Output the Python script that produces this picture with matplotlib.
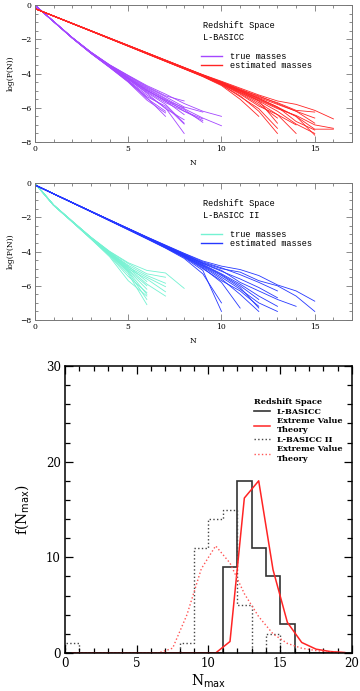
"""Cumulative group-size probabilities and N_max distributions in redshift space."""

import matplotlib
matplotlib.use("Agg")
import matplotlib.pyplot as plt
import numpy as np
from matplotlib.lines import Line2D
from matplotlib.ticker import MultipleLocator

# log(P(N)) curves, one list per realisation, values at N = 0, 1, 2, ...
LBASICC_TRUE = [
    [0.0, -0.95, -1.89, -2.74, -3.48, -4.10, -4.70, -5.20, -5.75, -6.20, -6.50],
    [0.0, -0.95, -1.90, -2.76, -3.52, -4.20, -4.85, -5.45, -6.05, -6.60, -7.05],
    [0.0, -0.95, -1.91, -2.78, -3.56, -4.30, -5.05, -5.70, -6.20, -6.75],
    [0.0, -0.95, -1.90, -2.75, -3.50, -4.15, -4.80, -5.35, -5.95, -6.25],
    [0.0, -0.96, -1.92, -2.80, -3.60, -4.40, -5.25, -6.00, -7.50],
    [0.0, -0.95, -1.90, -2.77, -3.54, -4.25, -4.95, -5.60, -6.40],
    [0.0, -0.96, -1.92, -2.81, -3.62, -4.45, -5.40, -6.50],
    [0.0, -0.95, -1.91, -2.79, -3.58, -4.35, -5.10, -5.80, -6.90],
    [0.0, -0.95, -1.90, -2.76, -3.53, -4.22, -4.90, -5.50, -6.20, -6.65],
    [0.0, -0.96, -1.91, -2.79, -3.57, -4.32, -5.15, -6.05, -6.70],
    [0.0, -0.95, -1.89, -2.74, -3.49, -4.12, -4.75, -5.30, -5.60],
    [0.0, -0.96, -1.92, -2.80, -3.61, -4.42, -5.35, -5.90, -6.95],
    [0.0, -0.95, -1.90, -2.77, -3.55, -4.28, -5.00, -5.55, -6.00],
    [0.0, -0.96, -1.93, -2.82, -3.64, -4.50, -5.55, -6.30],
    [0.0, -0.95, -1.91, -2.78, -3.55, -4.27, -4.98, -5.62, -6.10, -6.85],
    [0.0, -0.96, -1.92, -2.81, -3.63, -4.47, -5.45, -6.20],
]
LBASICC_EST = [
    [-0.2, -0.63, -1.06, -1.49, -1.92, -2.35, -2.78, -3.21, -3.64, -4.06, -4.45, -4.85, -5.25, -5.60, -5.80, -6.15, -6.65],
    [-0.2, -0.63, -1.06, -1.49, -1.92, -2.35, -2.78, -3.21, -3.64, -4.08, -4.52, -4.98, -5.45, -5.95, -6.50, -7.25, -7.25],
    [-0.2, -0.63, -1.07, -1.50, -1.94, -2.37, -2.81, -3.25, -3.69, -4.12, -4.58, -5.10, -5.70, -6.40, -7.50],
    [-0.2, -0.63, -1.06, -1.49, -1.93, -2.36, -2.79, -3.23, -3.66, -4.09, -4.50, -4.95, -5.40, -5.80, -6.20, -6.60],
    [-0.2, -0.64, -1.08, -1.52, -1.96, -2.40, -2.84, -3.28, -3.72, -4.16, -4.65, -5.30, -6.20, -7.50],
    [-0.2, -0.63, -1.07, -1.50, -1.94, -2.37, -2.80, -3.24, -3.68, -4.11, -4.55, -5.00, -5.50, -6.00, -6.50, -7.60],
    [-0.2, -0.63, -1.06, -1.50, -1.93, -2.36, -2.80, -3.23, -3.66, -4.10, -4.52, -4.95, -5.30, -5.75, -6.20, -6.90],
    [-0.2, -0.64, -1.08, -1.51, -1.95, -2.39, -2.83, -3.27, -3.71, -4.14, -4.62, -5.20, -5.90, -6.40, -7.00],
    [-0.2, -0.64, -1.07, -1.51, -1.95, -2.38, -2.82, -3.26, -3.70, -4.14, -4.60, -5.15, -5.80, -6.60],
    [-0.2, -0.63, -1.07, -1.50, -1.94, -2.37, -2.81, -3.24, -3.68, -4.12, -4.57, -5.05, -5.55, -6.05, -6.45, -7.00, -7.20],
    [-0.2, -0.64, -1.08, -1.52, -1.96, -2.40, -2.85, -3.29, -3.73, -4.18, -4.70, -5.50, -6.50],
    [-0.2, -0.63, -1.06, -1.49, -1.92, -2.35, -2.78, -3.22, -3.65, -4.08, -4.48, -4.90, -5.35, -5.70, -6.15, -6.25],
    [-0.2, -0.64, -1.07, -1.51, -1.94, -2.38, -2.82, -3.25, -3.69, -4.13, -4.60, -5.10, -5.60, -6.90],
    [-0.2, -0.63, -1.07, -1.50, -1.94, -2.38, -2.81, -3.25, -3.68, -4.12, -4.56, -5.00, -5.45, -5.95, -6.80, -7.30],
    [-0.2, -0.64, -1.08, -1.51, -1.95, -2.39, -2.83, -3.27, -3.71, -4.15, -4.66, -5.35, -6.05, -7.20],
    [-0.2, -0.63, -1.07, -1.50, -1.94, -2.37, -2.81, -3.24, -3.67, -4.11, -4.54, -5.02, -5.60, -6.20, -6.95, -7.50],
]
LBASICC2_TRUE = [
    [0.0, -1.27, -2.22, -3.15, -3.98, -4.65, -5.10, -5.25, -6.15],
    [0.0, -1.28, -2.23, -3.17, -4.03, -4.80, -5.40, -5.85],
    [0.0, -1.28, -2.24, -3.19, -4.08, -4.95, -5.90, -6.60],
    [0.0, -1.29, -2.25, -3.22, -4.15, -5.10, -6.20],
    [0.0, -1.29, -2.26, -3.24, -4.22, -5.30, -7.10],
    [0.0, -1.28, -2.24, -3.20, -4.10, -5.00, -5.60, -6.35],
    [0.0, -1.27, -2.22, -3.16, -4.00, -4.70, -5.30, -5.50],
    [0.0, -1.29, -2.26, -3.25, -4.25, -5.45, -6.40],
    [0.0, -1.28, -2.23, -3.18, -4.05, -4.85, -5.75],
    [0.0, -1.29, -2.25, -3.23, -4.18, -5.20, -6.80],
    [0.0, -1.28, -2.24, -3.21, -4.12, -5.05, -6.00],
    [0.0, -1.29, -2.27, -3.26, -4.30, -5.70, -6.60],
    [0.0, -1.28, -2.23, -3.18, -4.06, -4.90, -5.50, -6.05],
    [0.0, -1.29, -2.25, -3.22, -4.16, -5.15, -6.50],
]
LBASICC2_EST = [
    [-0.1, -0.62, -1.13, -1.64, -2.14, -2.64, -3.14, -3.62, -4.10, -4.55, -4.85, -5.05, -5.40, -5.95, -6.30, -6.90],
    [-0.1, -0.62, -1.13, -1.64, -2.15, -2.65, -3.16, -3.66, -4.16, -4.65, -5.00, -5.20, -5.70, -6.00, -6.60, -7.50],
    [-0.1, -0.62, -1.14, -1.65, -2.17, -2.68, -3.20, -3.72, -4.25, -4.85, -5.50, -6.20, -7.00, -7.50],
    [-0.1, -0.63, -1.15, -1.67, -2.19, -2.71, -3.24, -3.78, -4.35, -5.10, -7.50],
    [-0.1, -0.62, -1.14, -1.66, -2.18, -2.70, -3.22, -3.75, -4.30, -4.95, -5.80, -7.30],
    [-0.1, -0.62, -1.13, -1.65, -2.16, -2.67, -3.18, -3.70, -4.20, -4.75, -5.30, -5.90, -6.60, -7.20],
    [-0.1, -0.62, -1.14, -1.65, -2.17, -2.69, -3.21, -3.74, -4.28, -4.90, -5.60, -6.50, -7.50],
    [-0.1, -0.62, -1.13, -1.64, -2.15, -2.66, -3.17, -3.68, -4.18, -4.70, -5.15, -5.60, -6.10, -6.70],
    [-0.1, -0.63, -1.15, -1.67, -2.20, -2.73, -3.26, -3.80, -4.40, -5.30, -7.00],
    [-0.1, -0.62, -1.13, -1.64, -2.15, -2.65, -3.15, -3.64, -4.12, -4.60, -4.95, -5.35, -5.80, -6.30],
    [-0.1, -0.62, -1.14, -1.66, -2.18, -2.70, -3.22, -3.76, -4.32, -5.00, -5.70, -6.30, -7.20],
    [-0.1, -0.62, -1.13, -1.65, -2.16, -2.67, -3.19, -3.71, -4.22, -4.78, -5.35, -6.00, -6.80],
    [-0.1, -0.62, -1.13, -1.64, -2.15, -2.66, -3.17, -3.67, -4.17, -4.68, -5.10, -5.80, -6.30, -6.80, -7.20],
    [-0.1, -0.62, -1.14, -1.65, -2.16, -2.68, -3.20, -3.73, -4.26, -4.82, -5.40, -6.10, -7.30],
]

# N_max histograms (unit bins from 0 to 20)
NMAX_EDGES = list(range(21))
NMAX_LBASICC = [0, 0, 0, 0, 0, 0, 0, 0, 0, 0, 0, 9, 18, 11, 8, 3, 0, 0, 0, 0]
NMAX_LBASICC2 = [1, 0, 0, 0, 0, 0, 0, 0, 1, 11, 14, 15, 5, 0, 2, 0, 0, 0, 0, 0]

# Extreme value theory predictions, at bin centres
EVT_X = [0.5, 1.5, 2.5, 3.5, 4.5, 5.5, 6.5, 7.5, 8.5, 9.5,
         10.5, 11.5, 12.5, 13.5, 14.5, 15.5, 16.5, 17.5, 18.5, 19.5]
EVT_LBASICC = [0, 0, 0, 0, 0, 0, 0, 0, 0, 0,
               0.0, 1.2, 16.2, 18.0, 8.7, 3.2, 1.1, 0.4, 0.15, 0.05]
EVT_LBASICC2 = [0, 0, 0, 0, 0, 0, 0.0, 0.5, 4.0, 8.8,
                11.2, 9.4, 6.2, 3.8, 2.0, 1.0, 0.5, 0.25, 0.1, 0.03]

PURPLE = "#a447ff"
RED = "#ff2424"
AQUA = "#74f2d2"
BLUE = "#2638ff"
FRAME = "#777777"
MONO = "Liberation Mono"
SERIF = "DejaVu Serif"


def style_top(ax):
    ax.set_xlim(0, 17)
    ax.set_ylim(-8, 0)
    ax.xaxis.set_major_locator(MultipleLocator(5))
    ax.xaxis.set_minor_locator(MultipleLocator(1))
    ax.yaxis.set_major_locator(MultipleLocator(2))
    ax.yaxis.set_minor_locator(MultipleLocator(0.5))
    ax.tick_params(which="both", direction="in", top=True, right=True,
                   color=FRAME, width=0.6, labelsize=5.5, pad=2.5)
    ax.tick_params(which="major", length=4)
    ax.tick_params(which="minor", length=2)
    for spine in ax.spines.values():
        spine.set_color(FRAME)
        spine.set_linewidth(0.7)
    for label in ax.get_xticklabels() + ax.get_yticklabels():
        label.set_family(SERIF)
    ax.set_xlabel("N", fontsize=5.5, family=SERIF, labelpad=4)
    ax.set_ylabel("log(P(N))", fontsize=5.5, family=SERIF, labelpad=4)


def plot_curves(ax, true_lines, est_lines, true_color, est_color, sample):
    for vals in true_lines:
        ax.plot(np.arange(len(vals)), vals, color=true_color, lw=0.6)
    for vals in est_lines:
        ax.plot(np.arange(len(vals)), vals, color=est_color, lw=0.6)
    ax.text(0.53, 0.85, "Redshift Space", transform=ax.transAxes,
            fontsize=6.2, family=MONO, va="center")
    ax.text(0.53, 0.765, sample, transform=ax.transAxes,
            fontsize=6.2, family=MONO, va="center")
    handles = [Line2D([], [], color=true_color, lw=1.0),
               Line2D([], [], color=est_color, lw=1.0)]
    ax.legend(handles, ["true masses", "estimated masses"], loc="upper left",
              bbox_to_anchor=(0.505, 0.70), frameon=False,
              prop={"family": MONO, "size": 6.2}, handlelength=2.4,
              handletextpad=0.9, labelspacing=0.02, borderpad=0.2)
    style_top(ax)


fig = plt.figure(figsize=(3.6, 6.91), dpi=100)

ax1 = fig.add_axes([0.097, 0.7945, 0.881, 0.198])
plot_curves(ax1, LBASICC_TRUE, LBASICC_EST, PURPLE, RED, "L-BASICC")

ax2 = fig.add_axes([0.097, 0.5369, 0.881, 0.198])
plot_curves(ax2, LBASICC2_TRUE, LBASICC2_EST, AQUA, BLUE, "L-BASICC II")

ax3 = fig.add_axes([0.1806, 0.055, 0.797, 0.4153])
ax3.stairs(NMAX_LBASICC, NMAX_EDGES, color="#333333", lw=1.2)
ax3.plot(EVT_X, EVT_LBASICC, color=RED, lw=1.1)
ax3.stairs(NMAX_LBASICC2, NMAX_EDGES, color="#444444", lw=1.0, linestyle=":")
ax3.plot(EVT_X, EVT_LBASICC2, color="#ff5555", lw=1.0, linestyle=":")
ax3.set_xlim(0, 20)
ax3.set_ylim(0, 30)
ax3.xaxis.set_major_locator(MultipleLocator(5))
ax3.xaxis.set_minor_locator(MultipleLocator(1))
ax3.yaxis.set_major_locator(MultipleLocator(10))
ax3.yaxis.set_minor_locator(MultipleLocator(2))
ax3.tick_params(which="both", direction="in", top=True, right=True,
                width=0.9, labelsize=8.5, pad=3)
ax3.tick_params(which="major", length=6)
ax3.tick_params(which="minor", length=3.5)
for spine in ax3.spines.values():
    spine.set_linewidth(1.1)
for label in ax3.get_xticklabels() + ax3.get_yticklabels():
    label.set_family(SERIF)
ax3.set_xlabel(r"N$_{\rm max}$", fontsize=10, family=SERIF, labelpad=2)
ax3.set_ylabel(r"f(N$_{\rm max}$)", fontsize=10, family=SERIF, labelpad=11)

leg_handles = [Line2D([], [], color="#333333", lw=1.2),
               Line2D([], [], color=RED, lw=1.1),
               Line2D([], [], color="#444444", lw=1.0, linestyle=":"),
               Line2D([], [], color="#ff5555", lw=1.0, linestyle=":")]
ax3.legend(leg_handles,
           ["L-BASICC", "Extreme Value\nTheory", "L-BASICC II", "Extreme Value\nTheory"],
           title="Redshift Space", alignment="left", loc="upper left",
           bbox_to_anchor=(0.64, 0.905), frameon=False,
           prop={"family": SERIF, "size": 5.9, "weight": "bold"},
           title_fontproperties={"family": SERIF, "size": 5.9, "weight": "bold"},
           handlelength=2.0, handletextpad=0.8, labelspacing=0.18, borderpad=0.1)

fig.savefig("out.png", dpi=100)
